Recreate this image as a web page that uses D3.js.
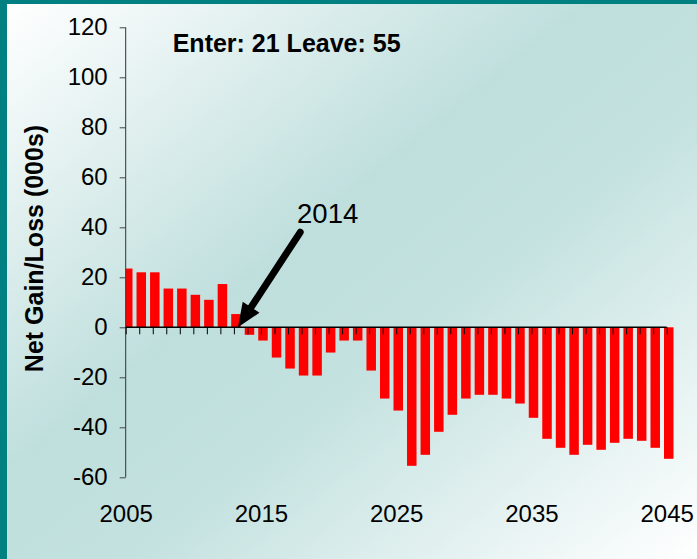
<!DOCTYPE html>
<html>
<head>
<meta charset="utf-8">
<script src="https://cdn.jsdelivr.net/npm/d3@7"></script>
<style>
  body { margin: 0; }
  svg { display: block; font-family: "Liberation Sans", Arial, sans-serif; }
</style>
</head>
<body>
<svg id="chart" width="697" height="559"></svg>
<script>
// data
var years = d3.range(2005, 2046);
var netGain = [23.5, 22, 22, 15.5, 15.5, 13, 11, 17.3, 5.3,
  -3, -5.3, -12.1, -16.5, -19.3, -19.3, -10.1, -5.3, -5.3, -17.3, -28.5,
  -33.3, -55.4, -51, -41.8, -35, -28.5, -27, -27, -28.5, -30.5,
  -36.2, -44.6, -48.2, -51, -47, -49, -46.2, -44.6, -45.4, -48.2, -52.6];
var yTicks = [-60, -40, -20, 0, 20, 40, 60, 80, 100, 120];
var xLabels = [2005, 2015, 2025, 2035, 2045];
var noteText = "Enter: 21 Leave: 55";
var arrowNote = { label: "2014", labelAt: [2017.67, 41.7], tail: [2017.9, 38], tip: [2013.3, 0] };

var svg = d3.select("#chart");

// background: teal frame + diagonal gradient
var grad = svg.append("defs").append("linearGradient")
    .attr("id", "bg")
    .attr("x1", 0).attr("y1", 0).attr("x2", 1).attr("y2", 1);
grad.append("stop").attr("offset", "0%").attr("stop-color", "#ffffff");
grad.append("stop").attr("offset", "42%").attr("stop-color", "#bfdfdd");
grad.append("stop").attr("offset", "58%").attr("stop-color", "#c2e1df");
grad.append("stop").attr("offset", "100%").attr("stop-color", "#ffffff");

svg.append("rect").attr("width", 697).attr("height", 559).attr("fill", "#008080");
svg.append("rect").attr("x", 7).attr("y", 4).attr("width", 690).attr("height", 555).attr("fill", "url(#bg)");

// scales
var x = d3.scaleLinear().domain([2005, 2045]).range([125.7, 666.7]);
var y = d3.scaleLinear().domain([-60, 120]).range([477.3, 27.3]);

svg.select("defs").append("clipPath").attr("id", "plot")
  .append("rect").attr("x", x(2005)).attr("y", 0).attr("width", 697).attr("height", 559);

// bars
svg.append("g").attr("clip-path", "url(#plot)")
  .selectAll("rect")
  .data(years)
  .enter()
  .append("rect")
    .attr("x", function(d) { return x(d) - 2.7; })
    .attr("width", 9.5)
    .attr("y", function(d, i) { return y(Math.max(0, netGain[i])); })
    .attr("height", function(d, i) { return Math.abs(y(netGain[i]) - y(0)); })
    .attr("fill", "#ff0000");

// y axis (plain hyphen minus, like the original)
var yAxis = svg.append("g")
    .attr("transform", "translate(" + x(2005) + ",0)")
    .call(d3.axisLeft(y).tickValues(yTicks).tickSize(6).tickPadding(12)
      .tickFormat(function(d) { return String(d); }));
yAxis.select(".domain").attr("stroke", "#333").attr("d", "M0," + y(120) + "V" + y(-60));
yAxis.selectAll(".tick line").attr("stroke", "#444");
yAxis.selectAll("text").attr("font-size", 24).attr("fill", "#000")
    .attr("font-family", "Liberation Sans, Arial, sans-serif");

// x axis on the zero line (ticks only)
var xAxis = svg.append("g")
    .attr("transform", "translate(0," + y(0) + ")")
    .call(d3.axisBottom(x).tickValues(years).tickSize(7).tickFormat(""));
xAxis.select(".domain").attr("stroke", "#000").attr("stroke-width", 1.6)
    .attr("d", "M" + x(2005) + ",0H" + x(2045));
xAxis.selectAll(".tick line").attr("stroke", "#000");

// x labels
var xLab = svg.append("g")
    .attr("transform", "translate(0,504.5)")
    .call(d3.axisBottom(x).tickValues(xLabels).tickSize(0).tickPadding(0)
      .tickFormat(function(d) { return String(d); }));
xLab.select(".domain").remove();
xLab.selectAll("text").attr("font-size", 24).attr("fill", "#000")
    .attr("font-family", "Liberation Sans, Arial, sans-serif");

// y title
svg.append("text")
    .attr("transform", "translate(43,248.5) rotate(-90)")
    .attr("text-anchor", "middle")
    .attr("font-size", 25).attr("font-weight", "bold")
    .text("Net Gain/Loss (000s)");

// note
svg.append("text")
    .attr("x", 172.7).attr("y", 52.3)
    .attr("font-size", 25).attr("font-weight", "bold")
    .text(noteText);

// arrow annotation
var t0 = [x(arrowNote.tail[0]), y(arrowNote.tail[1])];
var t1 = [x(arrowNote.tip[0]), y(arrowNote.tip[1])];
var dx = t1[0] - t0[0], dy = t1[1] - t0[1], len = Math.sqrt(dx * dx + dy * dy);
var ux = dx / len, uy = dy / len, px = -uy, py = ux;
var headLen = 24, headW = 10;
var base = [t1[0] - ux * headLen, t1[1] - uy * headLen];
svg.append("line")
    .attr("x1", t0[0]).attr("y1", t0[1])
    .attr("x2", base[0] + ux * 2).attr("y2", base[1] + uy * 2)
    .attr("stroke", "#000").attr("stroke-width", 7).attr("stroke-linecap", "round");
svg.append("path")
    .attr("d", "M" + t1[0] + "," + t1[1] +
      "L" + (base[0] + px * headW) + "," + (base[1] + py * headW) +
      "L" + (base[0] - px * headW) + "," + (base[1] - py * headW) + "Z")
    .attr("fill", "#000");
svg.append("text")
    .attr("x", x(arrowNote.labelAt[0])).attr("y", y(arrowNote.labelAt[1]))
    .attr("font-size", 27.5)
    .text(arrowNote.label);
</script>
</body>
</html>
